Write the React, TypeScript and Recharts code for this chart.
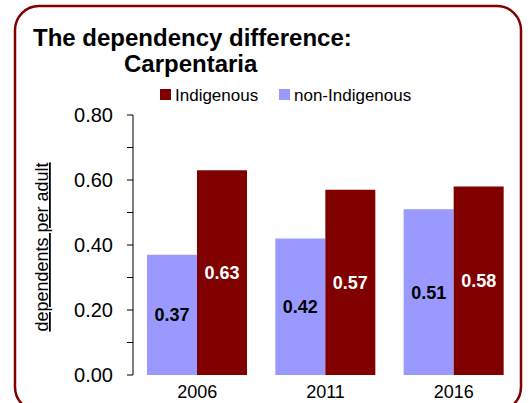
import React from 'react';
import { BarChart, Bar, XAxis, YAxis, LabelList } from 'recharts';

const years = ['2006', '2011', '2016'];
const indigenous = [0.63, 0.57, 0.58];
const nonIndigenous = [0.37, 0.42, 0.51];
const yTicks = [0, 0.1, 0.2, 0.3, 0.4, 0.5, 0.6, 0.7, 0.8];
const titleLines = ['The dependency difference:', 'Carpentaria'];
const yLabel = 'dependents per adult';
const legendNames = ['Indigenous', 'non-Indigenous'];

const INDIG = '#800000';
const NONINDIG = '#9999FF';
const FONT = '"Liberation Sans", Arial, Helvetica, sans-serif';

const data = years.map((y, i) => ({
  year: y,
  nonIndigenous: nonIndigenous[i],
  indigenous: indigenous[i],
}));

const fmt = (v: any) => Number(v).toFixed(2);

export default function App() {
  return (
    <div style={{ position: 'absolute', left: 0, top: 0, width: 529, height: 403, overflow: 'hidden', background: '#fff', fontFamily: FONT }}>
      <BarChart
        width={529}
        height={403}
        data={data}
        margin={{ top: 115, right: 11, bottom: 0, left: 73 }}
        barCategoryGap={14}
        barGap={0}
      >
        <XAxis
          dataKey="year"
          axisLine={false}
          tickLine={false}
          tickSize={0}
          tickMargin={10}
          height={28}
          tick={{ fill: '#000', fontSize: 18, fontFamily: FONT }}
        />
        <YAxis
          width={60}
          domain={[0, 0.8]}
          ticks={yTicks}
          interval={0}
          tickSize={6}
          tickMargin={14}
          axisLine={{ stroke: '#000', strokeWidth: 1 }}
          tickLine={{ stroke: '#000', strokeWidth: 1 }}
          tickFormatter={(v: number, i: number) => (i % 2 === 0 ? v.toFixed(2) : '')}
          tick={{ fill: '#000', fontSize: 20, fontFamily: FONT }}
        />
        <Bar dataKey="nonIndigenous" fill={NONINDIG} isAnimationActive={false}>
          <LabelList dataKey="nonIndigenous" position="center" formatter={fmt} fill="#000" fontSize={18} fontWeight="bold" fontFamily={FONT} />
        </Bar>
        <Bar dataKey="indigenous" fill={INDIG} isAnimationActive={false}>
          <LabelList dataKey="indigenous" position="center" formatter={fmt} fill="#fff" fontSize={18} fontWeight="bold" fontFamily={FONT} />
        </Bar>
      </BarChart>
      <svg width={529} height={403} style={{ position: 'absolute', left: 0, top: 0, pointerEvents: 'none' }}>
        <rect x={15} y={6} width={506} height={405} rx={24} ry={24} fill="none" stroke={INDIG} strokeWidth={2.5} />
        <text x={33} y={46} fontSize={24} fontWeight="bold" fontFamily={FONT} fill="#000">{titleLines[0]}</text>
        <text x={124} y={72} fontSize={24} fontWeight="bold" fontFamily={FONT} fill="#000">{titleLines[1]}</text>
        <rect x={160} y={89} width={11} height={11} fill={INDIG} />
        <text x={175} y={101} fontSize={17} fontFamily={FONT} fill="#000">{legendNames[0]}</text>
        <rect x={279} y={89} width={11} height={11} fill={NONINDIG} />
        <text x={294} y={101} fontSize={17} fontFamily={FONT} fill="#000">{legendNames[1]}</text>
        <text
          x={0}
          y={0}
          transform="translate(48,247) rotate(-90)"
          textAnchor="middle"
          fontSize={18}
          fontFamily={FONT}
          fill="#000"
          textDecoration="underline"
        >
          {yLabel}
        </text>
      </svg>
    </div>
  );
}
